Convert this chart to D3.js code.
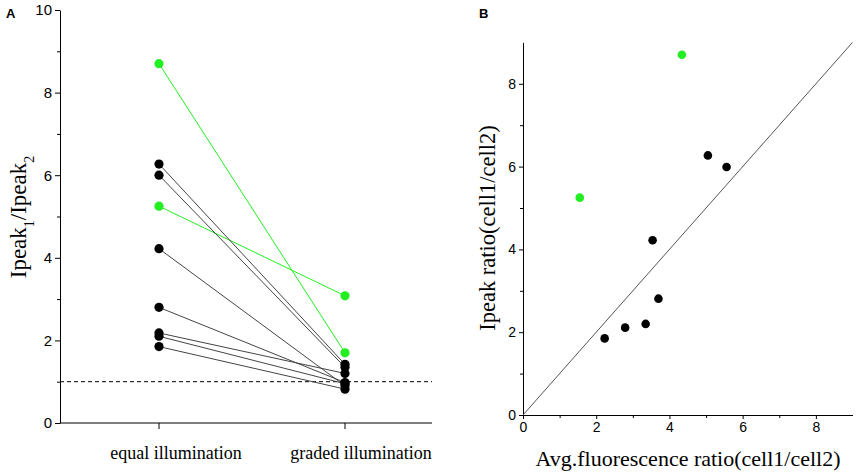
<!DOCTYPE html>
<html>
<head>
<meta charset="utf-8">
<script src="https://cdn.jsdelivr.net/npm/d3@7"></script>
<style>
  body { margin: 0; background: #fff; }
  .tick text { font-family: "Liberation Sans", Arial, sans-serif; }
</style>
</head>
<body>
<div id="chart"></div>
<script>
// panel A data: paired Ipeak ratios
const categories = ["equal illumination", "graded illumination"];
const equalVals  = [8.7, 5.25, 6.27, 6.0, 4.22, 2.8, 2.18, 2.1, 1.85];
const gradedVals = [1.7, 3.08, 1.42, 1.35, 0.9, 0.98, 1.2, 0.95, 0.82];
const isGreen    = [true, true, false, false, false, false, false, false, false];

// panel B data
const fluorRatio = [1.55, 4.34, 2.23, 2.79, 3.35, 3.70, 3.54, 5.05, 5.56];
const peakRatio  = [5.25, 8.70, 1.85, 2.11, 2.20, 2.81, 4.22, 6.27, 5.99];
const greenB     = [true, true, false, false, false, false, false, false, false];

const yTicksA = [0, 2, 4, 6, 8, 10];
const ticksB = [0, 2, 4, 6, 8];

const width = 856, height = 473;
const green = "#22ee22";

const svg = d3.select("#chart").append("svg")
  .attr("width", width).attr("height", height);

// ---------- Panel A ----------
const xA = d3.scalePoint().domain(categories).range([159, 345]);
const yA = d3.scaleLinear().domain([0, 10]).range([423, 10]);

const gA = svg.append("g");

// y axis major + minor
gA.append("g")
  .attr("transform", "translate(60,0)")
  .call(d3.axisLeft(yA).tickValues(d3.range(1, 10, 2)).tickSize(3).tickFormat(""))
  .call(g => g.select(".domain").remove());
gA.append("g")
  .attr("transform", "translate(60,0)")
  .call(d3.axisLeft(yA).tickValues(yTicksA).tickSize(5).tickSizeOuter(0).tickPadding(3))
  .attr("font-size", 15);

// x axis
const xAxisA = gA.append("g").attr("transform", "translate(0,423)");
xAxisA.append("line").attr("x1", 60).attr("x2", 432).attr("stroke", "#000");
xAxisA.selectAll(".ct").data(categories).enter().append("line")
  .attr("x1", d => xA(d)).attr("x2", d => xA(d))
  .attr("y1", 0).attr("y2", 6).attr("stroke", "#000");
xAxisA.selectAll(".cl").data(categories).enter().append("text")
  .attr("x", (d, i) => xA(d) + (i === 0 ? 17 : 16))
  .attr("y", 36)
  .attr("text-anchor", "middle")
  .attr("font-family", "Liberation Serif, Times New Roman, serif")
  .attr("font-size", 18)
  .text(d => d);

// dashed reference at 1
gA.append("line")
  .attr("x1", 60).attr("x2", 432)
  .attr("y1", yA(1)).attr("y2", yA(1))
  .attr("stroke", "#000").attr("stroke-dasharray", "4,3");

// paired lines
const pairs = equalVals.map((v, i) => ({ a: v, b: gradedVals[i], g: isGreen[i] }));
gA.selectAll(".pl").data(pairs).enter().append("line")
  .attr("x1", xA(categories[0])).attr("y1", d => yA(d.a))
  .attr("x2", xA(categories[1])).attr("y2", d => yA(d.b))
  .attr("stroke", d => d.g ? green : "#444")
  .attr("stroke-width", 1);

const dotsA = [];
pairs.forEach(d => {
  dotsA.push({ c: categories[0], v: d.a, g: d.g });
  dotsA.push({ c: categories[1], v: d.b, g: d.g });
});
gA.selectAll(".dot").data(dotsA).enter().append("circle")
  .attr("cx", d => xA(d.c)).attr("cy", d => yA(d.v))
  .attr("r", 4.6)
  .attr("fill", d => d.g ? green : "#000");

// y title
gA.append("text")
  .attr("transform", "translate(26,217) rotate(-90)")
  .attr("text-anchor", "middle")
  .attr("font-family", "Liberation Serif, Times New Roman, serif")
  .attr("font-size", 23)
  .html('Ipeak<tspan baseline-shift="sub" font-size="14">1</tspan>/Ipeak<tspan baseline-shift="sub" font-size="14">2</tspan>');

svg.append("text").attr("x", 6).attr("y", 18)
  .attr("font-family", "Liberation Sans, Arial, sans-serif")
  .attr("font-weight", "bold").attr("font-size", 13).text("A");

// ---------- Panel B ----------
const xB = d3.scaleLinear().domain([0, 9]).range([523, 852.5]);
const yB = d3.scaleLinear().domain([0, 9]).range([415, 42.4]);

const gB = svg.append("g");

gB.append("g").attr("transform", "translate(0,415)")
  .call(d3.axisBottom(xB).tickValues(d3.range(1, 9, 2)).tickSize(3).tickFormat(""))
  .call(g => g.select(".domain").remove());
gB.append("g").attr("transform", "translate(0,415)")
  .call(d3.axisBottom(xB).tickValues(ticksB).tickSize(4).tickSizeOuter(0).tickPadding(3))
  .attr("font-size", 14);

gB.append("g").attr("transform", "translate(523,0)")
  .call(d3.axisLeft(yB).tickValues(d3.range(1, 9, 2)).tickSize(3).tickFormat(""))
  .call(g => g.select(".domain").remove());
gB.append("g").attr("transform", "translate(523,0)")
  .call(d3.axisLeft(yB).tickValues(ticksB).tickSize(4).tickSizeOuter(0).tickPadding(3))
  .attr("font-size", 14);

// identity line
gB.append("line")
  .attr("x1", xB(0)).attr("y1", yB(0))
  .attr("x2", xB(9)).attr("y2", yB(9))
  .attr("stroke", "#555").attr("stroke-width", 1);

const ptsB = fluorRatio.map((x, i) => ({ x: x, y: peakRatio[i], g: greenB[i] }));
gB.selectAll(".pt").data(ptsB).enter().append("circle")
  .attr("cx", d => xB(d.x)).attr("cy", d => yB(d.y))
  .attr("r", 4.3)
  .attr("fill", d => d.g ? green : "#000");

gB.append("text")
  .attr("transform", "translate(495,228) rotate(-90)")
  .attr("text-anchor", "middle")
  .attr("font-family", "Liberation Serif, Times New Roman, serif")
  .attr("font-size", 22.5)
  .text("Ipeak ratio(cell1/cell2)");

gB.append("text")
  .attr("x", 688).attr("y", 466)
  .attr("text-anchor", "middle")
  .attr("font-family", "Liberation Serif, Times New Roman, serif")
  .attr("font-size", 22)
  .text("Avg.fluorescence ratio(cell1/cell2)");

svg.append("text").attr("x", 479).attr("y", 18)
  .attr("font-family", "Liberation Sans, Arial, sans-serif")
  .attr("font-weight", "bold").attr("font-size", 13).text("B");
</script>
</body>
</html>
